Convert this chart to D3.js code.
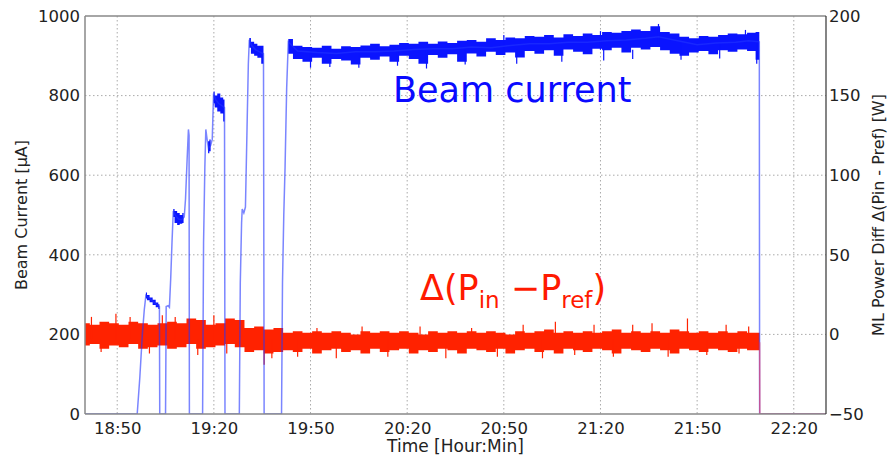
<!DOCTYPE html>
<html>
<head>
<meta charset="utf-8">
<script src="https://cdnjs.cloudflare.com/ajax/libs/d3/7.8.5/d3.min.js"></script>
<style>
  body { margin: 0; background: #fff; }
  text { font-family: "DejaVu Sans", sans-serif; }
</style>
</head>
<body>
<script>
// time axis ticks
var tickLabels = ["18:50", "19:20", "19:50", "20:20", "20:50", "21:20", "21:50", "22:20"];
var leftTicks = [0, 200, 400, 600, 800, 1000];
var rightTicks = [-50, 0, 50, 100, 150, 200];

// beam current trace (minutes after 18:40, uA)
var blueMin = [0, 16.2, 17.0, 17.8, 18.4, 18.9, 19.6, 20.5, 21.5, 22.4, 23.1, 23.2, 25.0, 25.2, 25.8, 26.2, 26.6, 27.0, 27.4, 28.0, 29.0, 30.0, 30.8, 31.2, 31.7, 32.1, 32.3, 32.4,
  36.5, 36.8, 37.2, 37.5, 37.9, 38.3, 39.0, 39.5, 39.9, 40.6, 41.5, 42.5, 43.3, 43.45, 47.9, 48.2, 48.6, 48.8, 49.3, 49.8, 50.3, 50.7, 51.0, 51.8, 53.0, 54.2, 55.4, 55.6,
  61.0, 61.3, 61.7, 62.1, 62.6, 63.1, 66, 72, 78, 84, 90, 96, 102, 108, 114, 120, 126, 132, 138, 144, 150, 156, 162, 168, 174, 178, 184, 190, 196, 202, 206, 209.3, 209.4, 230];
var blueVal = [0, 0, 90, 200, 262, 298, 293, 287, 280, 274, 270, 0, 0, 270, 272, 268, 340, 430, 510, 500, 490, 488, 495, 540, 640, 715, 700, 0,
  0, 430, 620, 715, 690, 668, 675, 690, 805, 790, 780, 775, 770, 0, 0, 330, 480, 515, 505, 520, 720, 880, 940, 925, 915, 910, 905, 0,
  0, 330, 500, 620, 820, 935, 912, 908, 906, 910, 910, 912, 916, 918, 918, 922, 920, 926, 930, 930, 934, 934, 938, 940, 944, 948, 938, 928, 932, 934, 938, 935, 0, 0];

// noise envelope of beam current (null = gap)
var bandMin = [18.9, 19.6, 20.5, 21.5, 22.4, 23.1, null,
  27.4, 28.2, 29.0, 29.8, 30.6, null,
  38.2, 39.0, null,
  39.9, 40.6, 41.5, 42.5, 43.3, null,
  51.0, 52.0, 53.0, 54.0, 55.4, null,
  63.1, 66, 69, 72, 75, 78, 81, 84, 87, 90, 93, 96, 99, 102, 105, 108, 111, 114, 117, 120, 123, 126, 129, 132, 135, 138, 141, 144, 147, 150,
  153, 156, 159, 162, 165, 168, 171, 174, 177, 180, 183, 186, 189, 192, 195, 198, 201, 204, 207, 209.3];
var bandLo = [290, 286, 281, 274, 268, 264, null,
  495, 480, 475, 478, 480, null,
  655, 660, null,
  780, 770, 760, 755, 735, null,
  920, 905, 900, 895, 880, null,
  905, 892, 885, 895, 880, 892, 888, 878, 895, 890, 898, 885, 900, 892, 880, 902, 895, 904, 885, 906, 898, 910, 902, 908, 896, 912, 905, 914, 900, 916,
  910, 904, 918, 914, 920, 908, 920, 916, 922, 914, 905, 900, 908, 912, 904, 914, 910, 916, 912, 890];
var bandHi = [305, 299, 293, 287, 280, 276, null,
  515, 510, 505, 500, 505, null,
  685, 690, null,
  810, 800, 805, 795, 790, null,
  945, 935, 930, 925, 925, null,
  942, 925, 922, 920, 925, 918, 924, 922, 926, 930, 924, 928, 932, 930, 935, 930, 936, 932, 938, 940, 935, 944, 940, 946, 944, 950, 948, 952, 946, 954,
  950, 956, 952, 960, 958, 962, 966, 962, 974, 960, 956, 948, 944, 950, 948, 952, 956, 954, 958, 960];
var blueSpikeMin = [70, 76, 85, 97, 106, 118, 134, 148, 161, 170, 185, 197, 208.5, 130, 160, 178, 205];
var blueSpikeVal = [870, 872, 870, 875, 868, 878, 880, 885, 888, 892, 890, 893, 880, 952, 962, 980, 965];

// ML power difference (minutes after 18:40, W)
var redMin = [0, 3, 6, 9, 12, 15, 18, 21, 24, 27, 30, 33, 36, 39, 42, 45, 48, 51, 54, 57, 60, 63, 66, 69, 72, 75, 78, 81, 84, 87, 90, 93, 96, 99, 102, 105,
  108, 111, 114, 117, 120, 123, 126, 129, 132, 135, 138, 141, 144, 147, 150, 153, 156, 159, 162, 165, 168, 171, 174, 177, 180, 183, 186, 189, 192, 195, 198, 201, 204, 207, 209.4];
var redLo = [-7, -6, -9, -7, -8, -6, -9, -8, -7, -9, -8, -6, -9, -8, -7, -6, -8, -11, -10, -12, -11, -10, -11, -9, -12, -10, -9, -11, -10, -12, -9, -11, -10, -9, -12, -10,
  -11, -9, -10, -12, -9, -10, -11, -9, -12, -10, -9, -11, -10, -12, -9, -10, -11, -9, -10, -12, -9, -10, -11, -9, -10, -12, -9, -10, -11, -9, -10, -11, -9, -10, -10];
var redHi = [7, 6, 8, 7, 6, 8, 7, 6, 7, 8, 7, 10, 9, 6, 7, 10, 9, 4, 5, 3, 4, 1, 2, 1, 2, 1, 2, 1, 0, 2, 1, 2, 1, 2, 1, 0,
  2, 1, 2, 1, 2, 1, 2, 1, 0, 2, 1, 2, 3, 1, 2, 1, 2, 1, 2, 3, 1, 2, 1, 2, 1, 3, 2, 1, 2, 1, 2, 1, 2, 1, 1];
var redSpikeMin = [2, 5, 9.6, 14, 20, 24, 28, 35, 40, 44, 55.6, 58, 66, 72, 78, 86, 94, 104, 112, 120, 128, 136, 142, 146, 152, 158, 164, 170, 176, 181, 187, 193, 199, 203, 206];
var redSpikeVal = [11, -11, 13, 11, -12, 12, 11, -13, 12, -12, -19, -15, -14, 4, -15, 5, -14, 5, -15, 4, -14, 6, -15, 8, -13, 6, -14, 6, 7, -14, 10, -13, 6, -12, 5];
// after the trip the power signal sits at the axis floor
var redEndMin = [209.4, 209.45, 230];
var redEndVal = [-5, -50, -50];

var width = 893, height = 458;
var margin = {top: 16, right: 67, bottom: 44, left: 85};
var w = width - margin.left - margin.right,
    h = height - margin.top - margin.bottom;

var parse = d3.timeParse("%H:%M");
var t0 = parse("18:40");
function tm(m) { return new Date(t0.getTime() + m * 60000); }

var x = d3.scaleTime().domain([t0, parse("22:30")]).range([0, w]);
var yL = d3.scaleLinear().domain([0, 1000]).range([h, 0]);
var yR = d3.scaleLinear().domain([-50, 200]).range([h, 0]);

var svg = d3.select("body").append("svg")
    .attr("width", width)
    .attr("height", height)
  .append("g")
    .attr("transform", "translate(" + margin.left + "," + margin.top + ")");

svg.append("defs").append("clipPath").attr("id", "clip")
  .append("rect").attr("width", w).attr("height", h);

// grid
var grid = svg.append("g").attr("stroke", "#aaa").attr("stroke-dasharray", "1.5,2.5").attr("stroke-width", 1);
grid.selectAll(".gx").data(tickLabels.map(parse)).enter().append("line")
  .attr("x1", function(d){ return x(d); }).attr("x2", function(d){ return x(d); })
  .attr("y1", 0).attr("y2", h);
grid.selectAll(".gy").data(leftTicks.slice(1, -1)).enter().append("line")
  .attr("x1", 0).attr("x2", w)
  .attr("y1", function(d){ return yL(d); }).attr("y2", function(d){ return yL(d); });

var plot = svg.append("g").attr("clip-path", "url(#clip)");

// red band
var redData = redMin.map(function(m, i){ return {t: tm(m), lo: redLo[i], hi: redHi[i]}; });
plot.append("path").datum(redData)
  .attr("fill", "#ff2200")
  .attr("d", d3.area().curve(d3.curveStep).x(function(d){ return x(d.t); })
    .y0(function(d){ return yR(d.lo); }).y1(function(d){ return yR(d.hi); }));
plot.selectAll(".rs").data(redSpikeMin).enter().append("line")
  .attr("stroke", "#ff2200").attr("stroke-width", 1.2)
  .attr("x1", function(d){ return x(tm(d)); }).attr("x2", function(d){ return x(tm(d)); })
  .attr("y1", yR(-3)).attr("y2", function(d, i){ return yR(redSpikeVal[i]); });

// blue band
var bandData = bandMin.map(function(m, i){ return {t: m === null ? null : tm(m), lo: bandLo[i], hi: bandHi[i]}; });
plot.append("path").datum(bandData)
  .attr("fill", "#0a14ff")
  .attr("d", d3.area().curve(d3.curveStep).defined(function(d){ return d.t !== null; })
    .x(function(d){ return x(d.t); })
    .y0(function(d){ return yL(d.lo); }).y1(function(d){ return yL(d.hi); }));
plot.selectAll(".bs").data(blueSpikeMin).enter().append("line")
  .attr("stroke", "#0a14ff").attr("stroke-width", 1.2)
  .attr("x1", function(d){ return x(tm(d)); }).attr("x2", function(d){ return x(tm(d)); })
  .attr("y1", function(d){ return yL(d > 175 ? 930 : 915); }).attr("y2", function(d, i){ return yL(blueSpikeVal[i]); });

// blue line
var blueData = blueMin.map(function(m, i){ return {t: tm(m), v: blueVal[i]}; });
plot.append("path").datum(blueData)
  .attr("fill", "none").attr("stroke", "#2233ff").attr("stroke-opacity", 0.6).attr("stroke-width", 1.5)
  .attr("d", d3.line().x(function(d){ return x(d.t); }).y(function(d){ return yL(d.v); }));

// red drop after trip
var redEnd = redEndMin.map(function(m, i){ return {t: tm(m), v: redEndVal[i]}; });
plot.append("path").datum(redEnd)
  .attr("fill", "none").attr("stroke", "#ee3355").attr("stroke-opacity", 0.6).attr("stroke-width", 1.5)
  .attr("d", d3.line().x(function(d){ return x(d.t); }).y(function(d){ return yR(d.v); }));

// spines
svg.append("line").attr("x1", 0).attr("x2", w).attr("y1", 0).attr("y2", 0).attr("stroke", "#888").attr("stroke-width", 1.5);
svg.append("line").attr("x1", 0).attr("x2", w).attr("y1", h).attr("y2", h).attr("stroke", "#888").attr("stroke-width", 1.5);
svg.append("line").attr("x1", 0).attr("x2", 0).attr("y1", 0).attr("y2", h).attr("stroke", "#888").attr("stroke-width", 1.5);
svg.append("line").attr("x1", w).attr("x2", w).attr("y1", 0).attr("y2", h).attr("stroke", "#333").attr("stroke-width", 1.2);

// axes
var xAxis = svg.append("g").attr("transform", "translate(0," + h + ")")
  .call(d3.axisBottom(x).tickValues(tickLabels.map(parse)).tickFormat(d3.timeFormat("%H:%M")).tickSize(0).tickPadding(8));
var yAxisL = svg.append("g")
  .call(d3.axisLeft(yL).tickValues(leftTicks).tickFormat(d3.format("d")).tickSize(0).tickPadding(5));
var yAxisR = svg.append("g").attr("transform", "translate(" + w + ",0)")
  .call(d3.axisRight(yR).tickValues(rightTicks).tickFormat(d3.format("d")).tickSize(0).tickPadding(3));
[xAxis, yAxisL, yAxisR].forEach(function(a){
  a.select(".domain").remove();
  a.selectAll("text").attr("font-family", "DejaVu Sans").attr("font-size", 16.5).attr("fill", "#222");
});

// axis titles
svg.append("text").attr("x", w / 2).attr("y", h + 38).attr("text-anchor", "middle")
  .attr("font-size", 17).attr("fill", "#222").text("Time [Hour:Min]");
svg.append("text").attr("transform", "translate(" + (-58) + "," + (h / 2) + ") rotate(-90)")
  .attr("text-anchor", "middle").attr("font-size", 16).attr("fill", "#222").text("Beam Current [μA]");
svg.append("text").attr("transform", "translate(" + (w + 58) + "," + (h / 2) + ") rotate(-90)")
  .attr("text-anchor", "middle").attr("font-size", 16).attr("fill", "#222").text("ML Power Diff Δ(Pin - Pref) [W]");

// annotations
svg.append("text").attr("x", 308).attr("y", 86).attr("font-family", "Open Sans").attr("font-size", 35)
  .attr("fill", "#0a0aff").text("Beam current");
var ann = svg.append("text").attr("x", 335).attr("y", 284).attr("font-family", "Open Sans").attr("font-size", 35).attr("fill", "#ff1a00");
ann.append("tspan").text("Δ(P");
ann.append("tspan").attr("font-size", 23).attr("dy", 8).text("in");
ann.append("tspan").attr("dy", -8).text(" −P");
ann.append("tspan").attr("font-size", 23).attr("dy", 8).text("ref");
ann.append("tspan").attr("dy", -8).text(")");
</script>
</body>
</html>
